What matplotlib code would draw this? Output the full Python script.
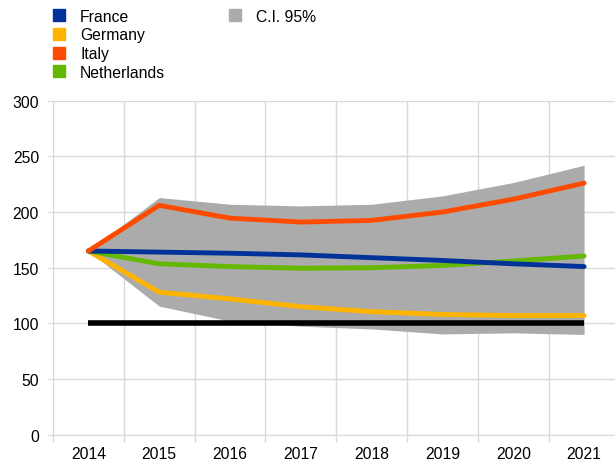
import matplotlib
matplotlib.use("Agg")
import matplotlib.pyplot as plt
from matplotlib.lines import Line2D
import numpy as np

years = ["2014", "2015", "2016", "2017", "2018", "2019", "2020", "2021"]
france = [165, 164, 163, 161.5, 159, 156.5, 153.5, 151]
germany = [165, 128, 122, 115, 110.5, 108, 107, 107]
italy = [165, 206, 194.5, 191, 192.5, 200, 211.5, 226]
netherlands = [165, 153.5, 151, 149.5, 150, 152, 156, 160.5]
ci_upper = [165, 213, 207, 205.5, 207, 214.5, 226.5, 242]
ci_lower = [165, 115.5, 102, 97.5, 95, 90.5, 91.5, 90]
baseline = [100] * 8

c_fr = "#003299"
c_de = "#FFB400"
c_it = "#FF4B00"
c_nl = "#65B800"
c_ci = "#ABABAB"

plt.rcParams['font.family'] = ['Liberation Sans', 'DejaVu Sans']

fig = plt.figure(figsize=(6.15, 4.64), dpi=100)
ax = fig.add_axes([53/615, 28.3/464, 566.5/615, 334/464])
x = np.arange(len(years))

ax.fill_between(x, ci_lower, ci_upper, color=c_ci, lw=0, zorder=2)
ax.plot(x, baseline, color="black", lw=4, zorder=3, solid_capstyle="butt")
ax.plot(x, germany, color=c_de, lw=3.5, zorder=4, solid_capstyle="round")
ax.plot(x, netherlands, color=c_nl, lw=3.5, zorder=4, solid_capstyle="round")
ax.plot(x, france, color=c_fr, lw=3.5, zorder=4, solid_capstyle="round")
ax.plot(x, italy, color=c_it, lw=3.5, zorder=5, solid_capstyle="round")

ax.set_xlim(-0.5, 7.5)
ax.set_ylim(0, 300)
ax.set_yticks(np.arange(0, 301, 50))
ax.set_xticks(x)
ax.set_xticklabels(years)
ax.set_xticks(np.arange(-0.5, 7.6, 1), minor=True)
ax.tick_params(axis="x", which="major", length=0, pad=8, labelsize=11.3)
ax.tick_params(axis="x", which="minor", length=5, color="#d9d9d9", width=1)
ax.tick_params(axis="y", length=4, color="#d9d9d9", labelsize=11.3, pad=6)
ax.grid(False)
ax.yaxis.grid(True, color="#d9d9d9", lw=1, zorder=0)
ax.xaxis.grid(True, which="minor", color="#d9d9d9", lw=1, zorder=0)
ax.set_axisbelow(True)
for s in ["top", "right"]:
    ax.spines[s].set_visible(False)
for s in ["left", "bottom"]:
    ax.spines[s].set_color("#d9d9d9")

def sq(c):
    return Line2D([], [], marker="s", color=c, ls="none", markersize=8)
blank = Line2D([], [], ls="none")
handles = [sq(c_fr), sq(c_de), sq(c_it), sq(c_nl), sq(c_ci), blank, blank, blank]
labels = ["France", "Germany", "Italy", "Netherlands", "C.I. 95%", "", "", ""]
fig.legend(handles, labels, ncol=2, loc="upper left", bbox_to_anchor=(0.073, 0.993),
           frameon=False, fontsize=11.3, handlelength=1.0, handletextpad=0.85,
           labelspacing=0.24, columnspacing=3.95, borderaxespad=0)

fig.savefig("out.png", dpi=100)
